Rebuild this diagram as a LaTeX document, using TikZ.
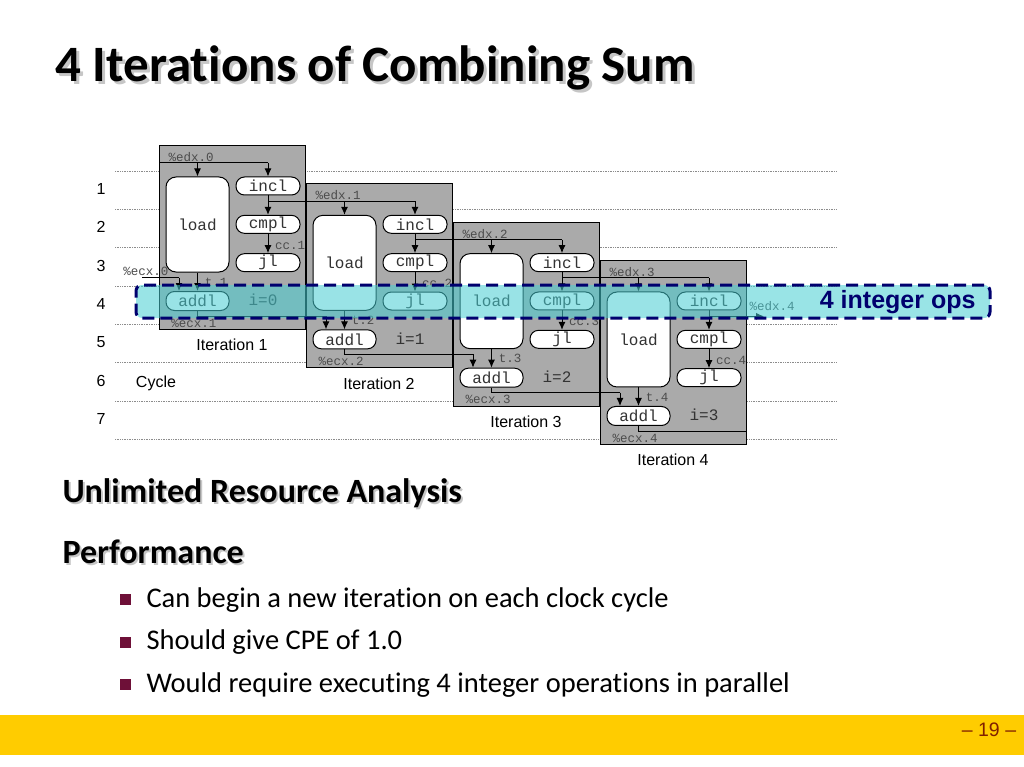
\documentclass[tikz,border=0pt]{standalone}
\usepackage{fontspec}
\setmainfont{Carlito}[Ligatures=CommonOff]
\newfontfamily\arialfont{Liberation Sans}
\newfontfamily\courfont{Liberation Mono}
\usetikzlibrary{calc}
\usetikzlibrary{arrows.meta}
\definecolor{boxgray}{RGB}{170,170,170}
\definecolor{bandcyan}{RGB}{70,205,210}
\definecolor{bandnavy}{RGB}{0,0,110}
\definecolor{footgold}{RGB}{255,204,0}
\definecolor{bulletred}{RGB}{110,16,56}
\definecolor{pagebrown}{RGB}{128,32,0}

\begin{document}
\begin{tikzpicture}[x=1pt, y=-1pt, >={Latex[length=8pt,width=7pt]}, line width=1pt,
			iterbox/.style={draw, fill=boxgray, anchor=north west, minimum width=146pt, minimum height=184pt, inner sep=0pt},
			opbox/.style={draw, fill=white, rounded corners=8.5pt, minimum width=64pt, minimum height=18pt, inner sep=0pt, text=black!80, font=\courfont\fontsize{16}{16}\selectfont},
			loadbox/.style={opbox, rounded corners=10pt, minimum width=63pt, minimum height=95pt},
			reglbl/.style={inner sep=0pt, text=black!70, font=\courfont\fontsize{12.5}{12.5}\selectfont},
			ilbl/.style={inner sep=0pt, text=black!80, font=\courfont\fontsize{16}{16}\selectfont},
			iterlbl/.style={inner sep=0pt, font=\arialfont\fontsize{16}{16}\selectfont},
			gridline/.style={densely dotted, line width=0.7pt, black!45},
			bandbox/.style={draw=bandnavy, fill=bandcyan, fill opacity=0.55, line width=3pt, dash pattern=on 12pt off 6pt, rounded corners=6pt, minimum width=854pt, minimum height=33pt, inner sep=0pt},
			heading/.style={anchor=base west, inner sep=0pt, font=\bfseries\fontsize{34}{34}\selectfont},
			bullettext/.style={anchor=base west, inner sep=0pt, font=\fontsize{28.5}{28.5}\selectfont}]
			\useasboundingbox (0,0) rectangle (1024,767);

			\foreach \i in {0,...,7} {
				\draw[gridline] (115,{171+38.33*\i}) -- (836,{171+38.33*\i});
			}
			\foreach \r in {1,...,7} {
				\node[iterlbl] (row\r) at (101,{189+38.33*(\r-1)}) {\r};
			}
			\node[iterlbl] (cyc) at (156,383) {Cycle};

			\foreach \k in {1,...,4} {
				\pgfmathtruncatemacro{\p}{\k-1}
				\begin{scope}[shift={({159+147*(\k-1)},{145+38.33*(\k-1)})}]
					\node[iterbox] (box\k) at (0,0) {};
					\node[loadbox] (load\k) at (38.5,79.5) {load};
					\node[opbox] (incl\k) at (109,41) {incl};
					\node[opbox] (cmpl\k) at (109,79.33) {cmpl};
					\node[opbox] (jl\k) at (109,117.67) {jl};
					\node[opbox, minimum width=63pt, minimum height=19pt] (addl\k) at (38.5,156) {addl};
					\node[reglbl, anchor=west] (edxl\k) at (9,12) {\%edx.\p};
					\node[reglbl] (ccl\k) at (131,100) {cc.\k};
					\node[reglbl] (tl\k) at (57,137) {t.\k};
					\node[reglbl] (ecxl\k) at (35,178) {\%ecx.\k};
					\node[ilbl] (il\k) at (104,155) {i=\p};
					\node[iterlbl] (itl\k) at (73,200) {Iteration \k};
					\coordinate (ein\k) at (38.5,18);
					\coordinate (einc\k) at (109,18);
					\coordinate (cin\k) at (20,132.7);
				\end{scope}
				\draw[->] (ein\k) -- (load\k);
				\draw[->] (einc\k) -- (incl\k);
				\draw[->] (incl\k) -- (cmpl\k);
				\draw[->] (cmpl\k) -- (jl\k);
				\draw[->] (load\k) -- (addl\k);
				\draw[->] (cin\k) -- (cin\k |- addl\k.north);
			}

			\foreach \k in {2,...,4} {
				\pgfmathtruncatemacro{\p}{\k-1}
				\draw (incl\p.south |- ein\k) -- (einc\k);
				\draw (addl\p.south) |- (cin\k);
			}

			\coordinate (edx0) at (159,163);
			\coordinate (ecx0) at (142,277.7);
			\node[reglbl] (ecxl0) at (146,271) {\%ecx.0};
			\draw (edx0) -- (einc1);
			\draw (ecx0) -- (cin1);

			\coordinate (edxout) at (764,316.3);
			\coordinate (ecxout) at (746,431.3);
			\node[reglbl] (edxl5) at (772,306) {\%edx.4};
			\draw[->] (incl4.south |- edxout) -- (edxout);
			\draw (addl4.south) |- (ecxout);

			\node[bandbox] (band) at (563,301.5) {};
			\node[anchor=east, inner sep=0pt, text=bandnavy, font=\arialfont\bfseries\fontsize{25}{25}\selectfont] (ops) at (976,302) {4 integer ops};

			\node[anchor=base west, inner sep=0pt, text=black!50, opacity=0.45, font=\bfseries\fontsize{51}{51}\selectfont] (titleshade) at (58,85) {4 Iterations of Combining Sum};
			\node[anchor=base west, inner sep=0pt, font=\bfseries\fontsize{51}{51}\selectfont] (title) at (55,82) {4 Iterations of Combining Sum};

			\node[heading, text=black!50, opacity=0.45] (headshade1) at (64,504) {Unlimited Resource Analysis};
			\node[heading] (head1) at (62,502) {Unlimited Resource Analysis};
			\node[heading, text=black!50, opacity=0.45] (headshade2) at (64,565) {Performance};
			\node[heading] (head2) at (62,563) {Performance};

			\foreach \t [count=\j] in {Can begin a new iteration on each clock cycle, Should give CPE of 1.0, Would require executing 4 integer operations in parallel} {
				\fill[bulletred] (120,{594+42.5*(\j-1)}) rectangle (131,{605+42.5*(\j-1)});
				\node[bullettext] (item\j) at (146,{607+42.5*(\j-1)}) {\t};
			}

			\fill[footgold] (0,715) rectangle (1024,755);
			\node[inner sep=0pt, text=pagebrown, font=\arialfont\fontsize{19.5}{19.5}\selectfont] (pagenum) at (989,730) {– 19 –};
		\end{tikzpicture}
\end{document}
